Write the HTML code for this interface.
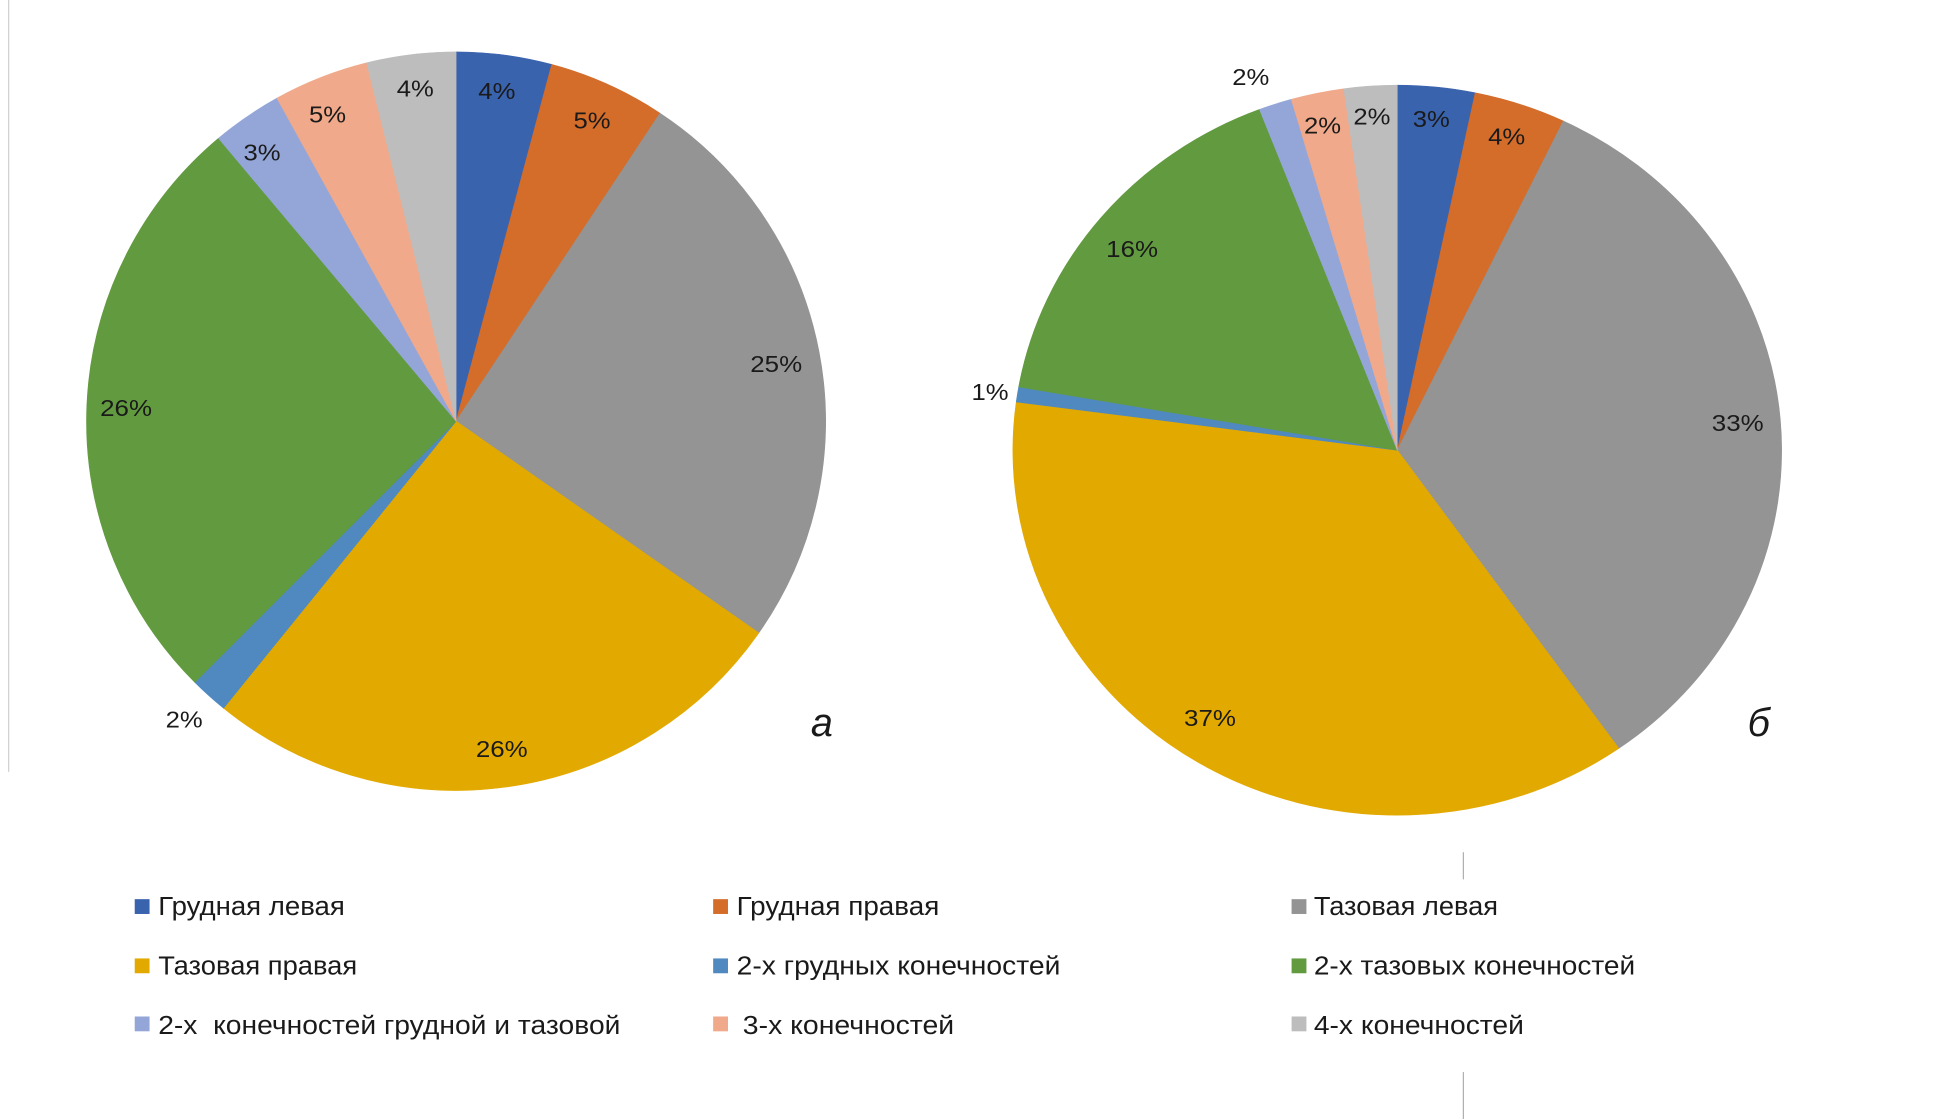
<!DOCTYPE html>
<html><head><meta charset="utf-8"><style>
html,body{margin:0;padding:0;background:#fff;}
svg{display:block;}
text{font-family:"Liberation Sans",sans-serif;fill:#1a1a1a;}
</style></head><body>
<svg id="s" width="1938" height="1119" viewBox="0 0 1568 906" preserveAspectRatio="none">
<rect width="1568" height="906" fill="#fff"/>
<line x1="7" y1="0" x2="7" y2="625" stroke="#d0d0d0" stroke-width="1"/>
<line x1="1184" y1="690" x2="1184" y2="712" stroke="#b0b0b0" stroke-width="1"/>
<line x1="1184" y1="868" x2="1184" y2="906" stroke="#b0b0b0" stroke-width="1"/>
<g id="pies"></g>
<g font-size="19">
<text x="402" y="80" text-anchor="middle" textLength="30" lengthAdjust="spacingAndGlyphs">4%</text>
<text x="479" y="104" text-anchor="middle" textLength="30" lengthAdjust="spacingAndGlyphs">5%</text>
<text x="628" y="301" text-anchor="middle" textLength="42" lengthAdjust="spacingAndGlyphs">25%</text>
<text x="406" y="613" text-anchor="middle" textLength="42" lengthAdjust="spacingAndGlyphs">26%</text>
<text x="149" y="589" text-anchor="middle" textLength="30" lengthAdjust="spacingAndGlyphs">2%</text>
<text x="102" y="337" text-anchor="middle" textLength="42" lengthAdjust="spacingAndGlyphs">26%</text>
<text x="212" y="130" text-anchor="middle" textLength="30" lengthAdjust="spacingAndGlyphs">3%</text>
<text x="265" y="99" text-anchor="middle" textLength="30" lengthAdjust="spacingAndGlyphs">5%</text>
<text x="336" y="78" text-anchor="middle" textLength="30" lengthAdjust="spacingAndGlyphs">4%</text>
<text x="1158" y="103" text-anchor="middle" textLength="30" lengthAdjust="spacingAndGlyphs">3%</text>
<text x="1219" y="117" text-anchor="middle" textLength="30" lengthAdjust="spacingAndGlyphs">4%</text>
<text x="1406" y="349" text-anchor="middle" textLength="42" lengthAdjust="spacingAndGlyphs">33%</text>
<text x="979" y="588" text-anchor="middle" textLength="42" lengthAdjust="spacingAndGlyphs">37%</text>
<text x="801" y="324" text-anchor="middle" textLength="30" lengthAdjust="spacingAndGlyphs">1%</text>
<text x="916" y="208" text-anchor="middle" textLength="42" lengthAdjust="spacingAndGlyphs">16%</text>
<text x="1012" y="69" text-anchor="middle" textLength="30" lengthAdjust="spacingAndGlyphs">2%</text>
<text x="1070" y="108" text-anchor="middle" textLength="30" lengthAdjust="spacingAndGlyphs">2%</text>
<text x="1110" y="101" text-anchor="middle" textLength="30" lengthAdjust="spacingAndGlyphs">2%</text>
</g>
<text x="665" y="596" font-size="32" font-style="italic" text-anchor="middle">а</text>
<text x="1423" y="596" font-size="32" font-style="italic" text-anchor="middle">б</text>
<g font-size="21">
<rect x="109" y="728" width="12" height="12" fill="#3a63ad"/><text x="128" y="741" textLength="151" lengthAdjust="spacingAndGlyphs">Грудная левая</text>
<rect x="577" y="728" width="12" height="12" fill="#d46c2a"/><text x="596" y="741" textLength="164" lengthAdjust="spacingAndGlyphs">Грудная правая</text>
<rect x="1045" y="728" width="12" height="12" fill="#949494"/><text x="1063" y="741" textLength="149" lengthAdjust="spacingAndGlyphs">Тазовая левая</text>
<rect x="109" y="776" width="12" height="12" fill="#e2a900"/><text x="128" y="789" textLength="161" lengthAdjust="spacingAndGlyphs">Тазовая правая</text>
<rect x="577" y="776" width="12" height="12" fill="#4f89c0"/><text x="596" y="789" textLength="262" lengthAdjust="spacingAndGlyphs">2-х грудных конечностей</text>
<rect x="1045" y="776" width="12" height="12" fill="#629a3f"/><text x="1063" y="789" textLength="260" lengthAdjust="spacingAndGlyphs">2-х тазовых конечностей</text>
<rect x="109" y="823" width="12" height="12" fill="#94a6d8"/><text x="128" y="837" textLength="374" lengthAdjust="spacingAndGlyphs" xml:space="preserve">2-х  конечностей грудной и тазовой</text>
<rect x="577" y="823" width="12" height="12" fill="#f0a98a"/><text x="601" y="837" textLength="171" lengthAdjust="spacingAndGlyphs">3-х конечностей</text>
<rect x="1045" y="823" width="12" height="12" fill="#bdbdbd"/><text x="1063" y="837" textLength="170" lengthAdjust="spacingAndGlyphs">4-х конечностей</text>
</g>
</svg>
<script>
var cols=["#3a63ad","#d46c2a","#949494","#e2a900","#4f89c0","#629a3f","#94a6d8","#f0a98a","#bdbdbd"];
function pie(cx,cy,rx,ry,ends){
 var g=document.getElementById("pies"),s="",a0=0;
 for(var i=0;i<ends.length;i++){
  var a1=ends[i],r0=a0*Math.PI/180,r1=a1*Math.PI/180;
  var x0=cx+rx*Math.sin(r0),y0=cy-ry*Math.cos(r0),x1=cx+rx*Math.sin(r1),y1=cy-ry*Math.cos(r1);
  var big=(a1-a0)>180?1:0;
  s+='<path d="M'+cx+','+cy+' L'+x0+','+y0+' A'+rx+','+ry+' 0 '+big+' 1 '+x1+','+y1+' Z" fill="'+cols[i]+'" stroke="'+cols[i]+'" stroke-width="0.5"/>';
  a0=a1;
 }
 g.insertAdjacentHTML("beforeend",s);
}
pie(369,341,299,299,[15,33.5,125,219,225,320,331,346,360]);
pie(1130.5,364.5,311,295.5,[11.7,25.6,144.8,277.6,280,339,344,352,360]);
</script>
</body></html>
